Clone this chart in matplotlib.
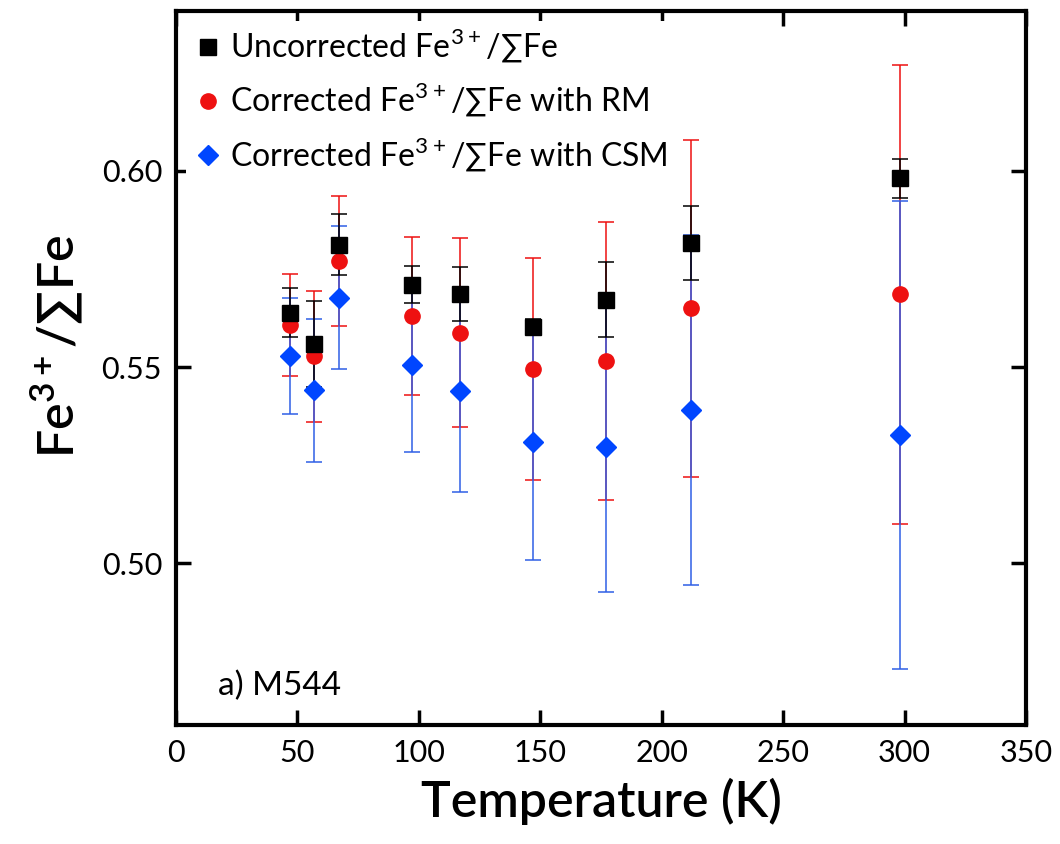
import matplotlib
matplotlib.use('Agg')
import matplotlib.pyplot as plt
from matplotlib.ticker import FormatStrFormatter

plt.rcParams['font.family'] = ['Lato', 'DejaVu Sans']
plt.rcParams['mathtext.fontset'] = 'custom'
plt.rcParams['mathtext.rm'] = 'Lato'

# Temperatures (K)
temps = [47, 57, 67, 97, 117, 147, 177, 212, 298]

# Uncorrected Fe3+/sum Fe
uncorr = [0.5639, 0.5559, 0.5812, 0.5710, 0.5686, 0.5603, 0.5672, 0.5816, 0.5981]
uncorr_err = [0.0063, 0.0110, 0.0077, 0.0048, 0.0069, 0.0020, 0.0096, 0.0094, 0.0050]

# Corrected with RM
rm = [0.5607, 0.5528, 0.5771, 0.5630, 0.5587, 0.5495, 0.5515, 0.5650, 0.5685]
rm_err = [0.0130, 0.0167, 0.0166, 0.0201, 0.0241, 0.0284, 0.0355, 0.0430, 0.0585]

# Corrected with CSM
csm = [0.5528, 0.5441, 0.5677, 0.5504, 0.5440, 0.5310, 0.5295, 0.5390, 0.5327]
csm_err = [0.0148, 0.0182, 0.0183, 0.0221, 0.0260, 0.0301, 0.0370, 0.0447, 0.0597]

black = '#000000'
red = '#ee1111'
blue = '#0046ff'
blue_line = '#2f5fe6'

fig = plt.figure(figsize=(10.6, 8.44), dpi=100)
ax = fig.add_axes([0.166, 0.141, 0.802, 0.846])

# error bars first (red, blue, black), then markers on top
ax.errorbar(temps, rm, yerr=rm_err, fmt='none', ecolor=red, elinewidth=1.1,
            capsize=6, capthick=1.1, zorder=2)
ax.errorbar(temps, csm, yerr=csm_err, fmt='none', ecolor=blue_line, elinewidth=1.1,
            capsize=6, capthick=1.1, zorder=3)
ax.errorbar(temps, uncorr, yerr=uncorr_err, fmt='none', ecolor=black, elinewidth=1.1,
            capsize=6, capthick=1.1, zorder=4)

lbl = 'Fe$^{\\mathregular{3+}}$/\u2211Fe'
ax.plot(temps, csm, 'D', color=blue, markersize=10, label='Corrected ' + lbl + ' with CSM', zorder=5)
ax.plot(temps, rm, 'o', color=red, markersize=11, label='Corrected ' + lbl + ' with RM', zorder=6)
ax.plot(temps, uncorr, 's', color=black, markersize=11, label='Uncorrected ' + lbl, zorder=7)

ax.set_xlim(0, 350)
ax.set_ylim(0.4587, 0.6408)
ax.set_xticks(range(0, 351, 50))
ax.set_yticks([0.50, 0.55, 0.60])
ax.yaxis.set_major_formatter(FormatStrFormatter('%.2f'))
ax.tick_params(direction='in', length=11, width=2.5, labelsize=22, pad=10,
               top=True, right=True)
for s in ax.spines.values():
    s.set_linewidth(3)

ax.set_xlabel('Temperature (K)', fontsize=36, fontweight='semibold', labelpad=8)
ax.set_ylabel('Fe$^{\\mathregular{3+}}$/\u2211Fe', fontsize=36, fontweight='semibold', labelpad=12)
ax.yaxis.label.set_y(0.53)

handles, labels = ax.get_legend_handles_labels()
leg = ax.legend(handles[::-1], labels[::-1], loc='upper left', fontsize=23,
                frameon=True, framealpha=1, edgecolor='none', facecolor='white',
                handletextpad=0.2, handlelength=1.0, labelspacing=0.5,
                borderaxespad=0.3, borderpad=0.2)
leg.set_zorder(10)

ax.text(0.05, 0.055, 'a) M544', transform=ax.transAxes, fontsize=24,
        ha='left', va='center')

fig.savefig('out.png', dpi=100)
